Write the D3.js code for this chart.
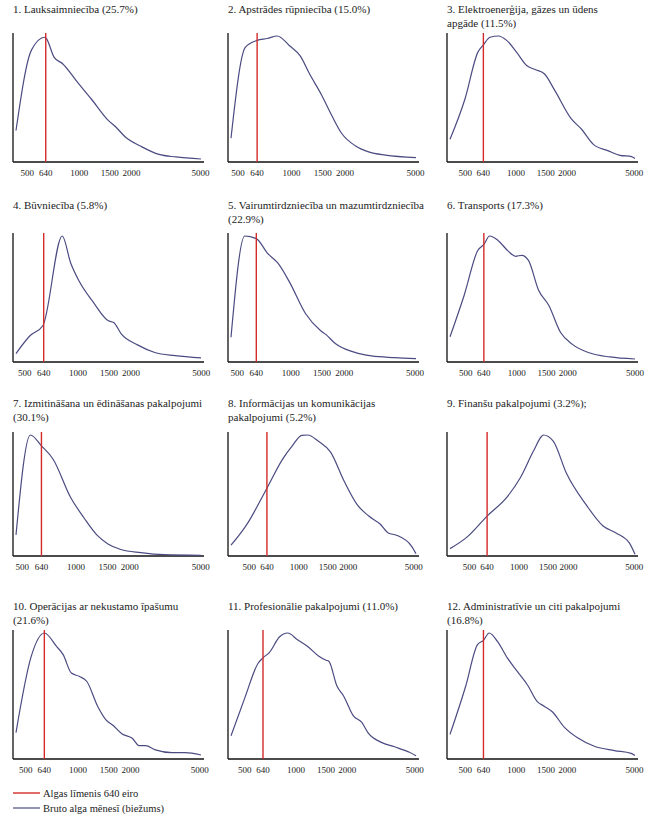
<!DOCTYPE html>
<html>
<head>
<meta charset="utf-8">
<script src="https://cdnjs.cloudflare.com/ajax/libs/d3/7.8.5/d3.min.js"></script>
<style>
  body { margin: 0; background: #fff; }
  svg { display: block; }
  svg text { font-family: 'Liberation Serif', 'DejaVu Serif', 'Times New Roman', serif; fill: #222; }
  .title { font-size: 11px; }
  .tick-label { font-size: 9px; text-anchor: middle; }
  .legend-label { font-size: 10.5px; }
  .axis-line { stroke: #111; stroke-width: 1.3; }
  .limit-line { stroke: #d42a2a; stroke-width: 1.4; }
  .density { fill: none; stroke: #4b4b82; stroke-width: 1.2; }
</style>
</head>
<body>
<svg id="chart" width="657" height="826"></svg>
<script>

// panel titles, as printed (line breaks as in the original)
var titleLines = [
  ["1. Lauksaimniecība (25.7%)"],
  ["2. Apstrādes rūpniecība (15.0%)"],
  ["3. Elektroenerģija, gāzes un ūdens", "apgāde (11.5%)"],
  ["4. Būvniecība (5.8%)"],
  ["5. Vairumtirdzniecība un mazumtirdzniecība", "(22.9%)"],
  ["6. Transports (17.3%)"],
  ["7. Izmitināšana un ēdināšanas pakalpojumi", "(30.1%)"],
  ["8. Informācijas un komunikācijas", "pakalpojumi (5.2%)"],
  ["9. Finanšu pakalpojumi (3.2%);"],
  ["10. Operācijas ar nekustamo īpašumu", "(21.6%)"],
  ["11. Profesionālie pakalpojumi (11.0%)"],
  ["12. Administratīvie un citi pakalpojumi", "(16.8%)"]
]

var wageLevel = 640
var tickValues = [500, 640, 1000, 1500, 2000, 5000]
var legendLabels = ["Algas līmenis 640 eiro", "Bruto alga mēnesī (biežums)"]

// [gross monthly wage, relative density]
var curve1 = [[431,0.25],[530,0.89],[632,0.99],[645,0.98],[716,0.83],[801,0.78],[980,0.63],[1173,0.5],[1469,0.33],[1620,0.28],[1837,0.2],[2298,0.12],[2880,0.06],[3604,0.04],[5040,0.024]]
var curve2 = [[456,0.19],[549,0.91],[640,0.965],[730,0.98],[832,1.0],[971,0.925],[1122,0.84],[1263,0.7],[1472,0.536],[1678,0.375],[1915,0.228],[2285,0.129],[2720,0.08],[3385,0.054],[5030,0.035]]
var curve3 = [[406,0.18],[498,0.5],[593,0.87],[640,0.93],[701,0.99],[785,1.0],[879,0.965],[1008,0.87],[1155,0.766],[1294,0.734],[1469,0.7],[1697,0.566],[2130,0.34],[2442,0.26],[2867,0.14],[3518,0.088],[4120,0.053],[4830,0.043],[5060,0.027]]
var curve4 = [[446,0.067],[537,0.21],[634,0.29],[815,1.0],[910,0.786],[1015,0.643],[1210,0.483],[1488,0.327],[1594,0.314],[1760,0.223],[2190,0.134],[2726,0.075],[3550,0.05],[4980,0.032]]
var curve5 = [[461,0.196],[551,1.0],[640,0.979],[743,0.86],[845,0.786],[981,0.638],[1213,0.383],[1469,0.25],[1581,0.217],[1781,0.147],[2252,0.08],[2848,0.048],[3840,0.035],[5070,0.027]]
var curve6 = [[404,0.2],[490,0.53],[590,0.887],[640,0.933],[692,1.0],[776,0.965],[891,0.88],[986,0.839],[1071,0.847],[1174,0.806],[1347,0.57],[1546,0.45],[1817,0.234],[2132,0.14],[2680,0.073],[3540,0.04],[4995,0.024]]
var curve7 = [[461,0.175],[555,1.0],[640,0.91],[744,0.8],[931,0.486],[1107,0.316],[1315,0.17],[1509,0.1],[1781,0.054],[2305,0.028],[3120,0.011],[5010,0.006]]
var curve8 = [[387,0.089],[480,0.255],[640,0.56],[794,0.797],[910,0.908],[1044,0.997],[1132,1.0],[1311,0.95],[1561,0.858],[1889,0.617],[2271,0.422],[2665,0.33],[3123,0.264],[3502,0.19],[3925,0.172],[4860,0.08],[5163,0.019]]
var curve9 = [[381,0.061],[485,0.158],[640,0.33],[845,0.486],[1016,0.644],[1223,0.867],[1373,0.99],[1405,1.0],[1613,0.95],[1937,0.686],[2560,0.422],[3225,0.25],[3883,0.19],[4672,0.108],[5060,0.014]]
var curve10 = [[440,0.21],[537,0.81],[640,1.0],[752,0.894],[821,0.828],[915,0.682],[1020,0.655],[1123,0.615],[1297,0.416],[1446,0.31],[1578,0.27],[1784,0.2],[2048,0.164],[2240,0.106],[2440,0.106],[2782,0.072],[3460,0.05],[4117,0.05],[5080,0.032]]
var curve11 = [[415,0.184],[501,0.487],[598,0.758],[640,0.803],[699,0.847],[799,0.968],[894,1.0],[1021,0.947],[1167,0.895],[1364,0.816],[1505,0.784],[1561,0.776],[1742,0.579],[1906,0.5],[2177,0.342],[2439,0.29],[2664,0.205],[3179,0.132],[3799,0.097],[4648,0.053],[5081,0.026]]
var curve12 = [[406,0.195],[503,0.579],[590,0.907],[640,0.941],[692,1.0],[774,0.933],[888,0.8],[1017,0.693],[1165,0.587],[1336,0.453],[1463,0.419],[1638,0.373],[1921,0.253],[2302,0.168],[2893,0.101],[3801,0.067],[4771,0.045],[5030,0.027]]

var curves = [curve1, curve2, curve3, curve4, curve5, curve6,
              curve7, curve8, curve9, curve10, curve11, curve12]

// layout
var colX = [13, 228, 447]          // y axis position of each column
var rowTop = [33, 233, 432, 630]
var rowBase = [162, 362, 556, 759]
var titleY = [13, 209, 407, 610]
var lineGap = 13.5
var inset = 3, plotW = 185

var svg = d3.select('#chart')

curves.forEach(function(data, i) {
  var col = i % 3, row = Math.floor(i / 3)
  var x0 = colX[col]
  var g = svg.append('g').attr('class', 'panel')

  var x = d3.scaleLog()
    .domain(d3.extent(data, function(d) { return d[0] }))
    .range([x0 + inset, x0 + inset + plotW])
  var y = d3.scaleLinear()
    .domain([0, 1])
    .range([rowBase[row], rowTop[row] + 3])

  // title
  var t = g.append('text').attr('class', 'title')
  titleLines[i].forEach(function(line, k) {
    t.append('tspan')
      .attr('x', x0)
      .attr('y', titleY[row] + k * lineGap)
      .text(line)
  })

  // axes (plain lines, no ticks)
  g.append('line').attr('class', 'axis-line')
    .attr('x1', x0).attr('x2', x0)
    .attr('y1', rowTop[row]).attr('y2', rowBase[row])
  g.append('line').attr('class', 'axis-line')
    .attr('x1', x0).attr('x2', x0 + plotW + 2 * inset)
    .attr('y1', rowBase[row]).attr('y2', rowBase[row])

  g.selectAll('.tick-label')
    .data(tickValues)
    .enter()
    .append('text')
    .attr('class', 'tick-label')
    .attr('x', function(d) { return x(d) })
    .attr('y', rowBase[row] + 14)
    .text(function(d) { return d })

  // density curve
  g.append('path')
    .datum(data)
    .attr('class', 'density')
    .attr('d', d3.line()
      .x(function(d) { return x(d[0]) })
      .y(function(d) { return y(d[1]) })
      .curve(d3.curveMonotoneX))

  // 640 euro line
  g.append('line').attr('class', 'limit-line')
    .attr('x1', x(wageLevel)).attr('x2', x(wageLevel))
    .attr('y1', rowTop[row]).attr('y2', rowBase[row])
})

// legend
var legend = svg.append('g').attr('transform', 'translate(13,793)')
legend.selectAll('line')
  .data(['limit-line', 'density'])
  .enter()
  .append('line')
  .attr('class', function(d) { return d })
  .attr('x1', 0).attr('x2', 27)
  .attr('y1', function(d, i) { return i * 15 })
  .attr('y2', function(d, i) { return i * 15 })
legend.selectAll('text')
  .data(legendLabels)
  .enter()
  .append('text')
  .attr('class', 'legend-label')
  .attr('x', 30)
  .attr('y', function(d, i) { return i * 15 + 3.5 })
  .text(function(d) { return d })

</script>
</body>
</html>
